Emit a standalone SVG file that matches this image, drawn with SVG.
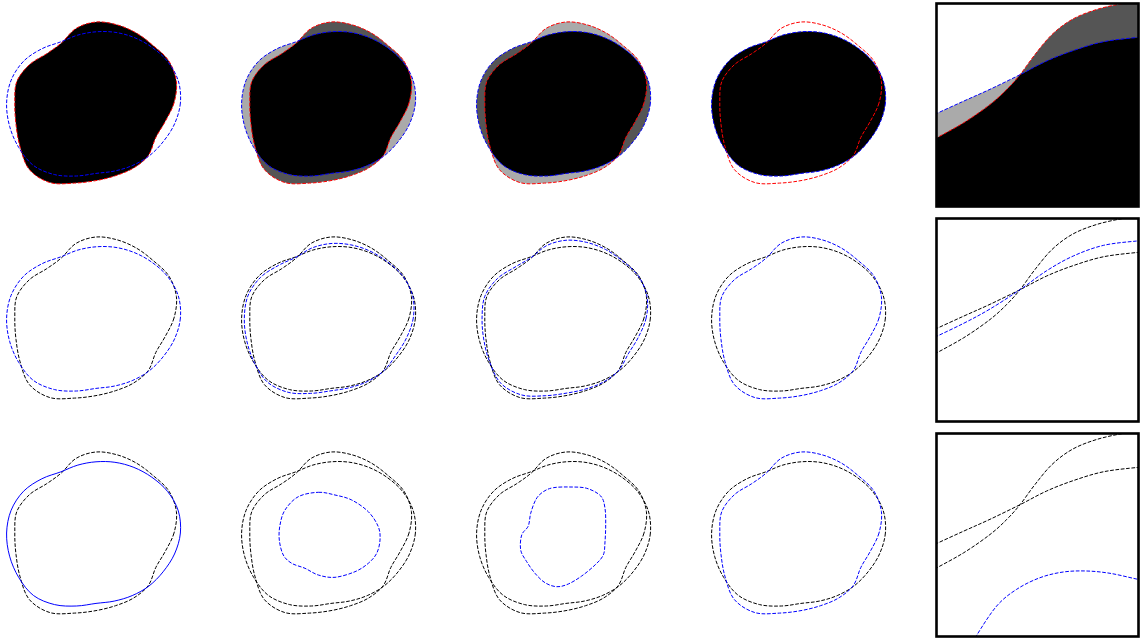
<svg xmlns="http://www.w3.org/2000/svg" xmlns:xlink="http://www.w3.org/1999/xlink" width="1140" height="639" viewBox="0 0 1140 639">
<style>
.dr{fill:none;stroke:#ff0000;stroke-width:1;stroke-dasharray:3.7 1.6}
.db{fill:none;stroke:#0000ff;stroke-width:1;stroke-dasharray:3.7 1.6}
.dk{fill:none;stroke:#000000;stroke-width:1;stroke-dasharray:3.7 1.6}
.sb{fill:none;stroke:#0000ff;stroke-width:1}
.frame{fill:none;stroke:#000000;stroke-width:2.6}
</style>
<defs>
<path id="shA" d="M174,103 C172.13,109.67 168.23,115.75 165.2,121.5 S158.6,131.85 155.8,137.5 S152.1,150.32 148.4,155.4 S139.08,164.62 133.6,168 S121.77,173.6 115.5,175.7 S102.83,179.37 96,180.6 S82.17,182.77 74.5,183.1 S57.52,184.85 50,182.6 S34.38,175.55 29.4,169.6 S22.33,154.43 20.1,146.9 S16.88,131.72 16,124.4 S14.68,110.1 14.8,103 S14.25,88.2 16.7,81.8 S24.5,69.28 29.5,64.6 S41.4,57.3 46.7,53.7 S56.42,47.22 61.3,43 S70.22,31.9 76,28.4 S89.17,22.6 96,22 S110.27,22.95 117,24.8 S130.35,29.62 136.4,33.1 S147.9,41.07 153.3,45.7 S164.95,54.93 168.8,60.9 S175.53,74.48 176.4,81.5 S175.87,96.33 174,103 Z"/>
<path id="shB" d="M180.4,103 C179.77,110.18 177.38,117.53 174.5,124 S167.35,136.47 163.1,141.8 S154.15,152.03 149,156 S138,163.08 132.2,165.6 S120.23,169.8 114.2,171.1 S102.3,172.58 96,173.4 S83.3,175.8 76.4,176 S61.75,176.35 54.6,174.6 S39.47,170 33.5,165.5 S22.78,154.15 18.8,147.6 S11.63,133.63 9.6,126.2 S6.35,110.65 6.6,103 S8.27,87.27 11.1,80.3 S18.48,66.45 23.6,61.2 S35.62,52.02 41.8,48.8 S54.7,44.18 60.7,41.9 S71.92,36.78 77.8,35.1 S89.82,32.27 96,31.8 S108.58,31.37 114.9,32.3 S127.75,34.92 133.9,37.4 S146.17,43.17 151.8,47.2 S163.28,55.98 167.7,61.6 S176.18,74 178.3,80.9 S181.03,95.82 180.4,103 Z"/>
<path id="sh13" d="M178.27,103 C177.22,110.01 174.33,116.94 171.4,123.17 S164.43,134.93 160.67,140.37 S153.47,151.46 148.8,155.8 S138.36,163.59 132.67,166.4 S120.74,171.07 114.63,172.63 S102.48,174.84 96,175.8 S82.92,178.12 75.77,178.37 S60.34,179.18 53.07,177.27 S37.77,171.85 32.13,166.87 S22.63,154.24 19.23,147.37 S13.38,132.99 11.73,125.6 S9.13,110.47 9.33,103 S10.26,87.58 12.97,80.8 S20.49,67.39 25.57,62.33 S37.55,53.78 43.43,50.43 S55.27,45.19 60.9,42.27 S71.35,35.15 77.2,32.87 S89.6,29.05 96,28.53 S109.14,28.56 115.6,29.8 S128.62,33.15 134.73,35.97 S146.75,42.47 152.3,46.7 S163.84,55.63 168.07,61.37 S175.96,74.16 177.67,81.1 S179.31,95.99 178.27,103 Z"/>
<path id="sh23" d="M176.13,103 C174.67,109.84 171.28,116.35 168.3,122.33 S161.51,133.39 158.23,138.93 S152.78,150.89 148.6,155.6 S138.72,164.1 133.13,167.2 S121.26,172.34 115.07,174.17 S102.66,177.1 96,178.2 S82.54,180.44 75.13,180.73 S58.93,182.01 51.53,179.93 S36.07,173.7 30.77,168.23 S22.48,154.33 19.67,147.13 S15.13,132.35 13.87,125 S11.91,110.29 12.07,103 S12.25,87.89 14.83,81.3 S22.5,68.33 27.53,63.47 S39.48,55.54 45.07,52.07 S55.84,46.2 61.1,42.63 S70.78,33.52 76.6,30.63 S89.38,25.83 96,25.27 S109.7,25.75 116.3,27.3 S129.49,31.38 135.57,34.53 S147.33,41.77 152.8,46.2 S164.4,55.28 168.43,61.13 S175.74,74.32 177.03,81.3 S177.59,96.16 176.13,103 Z"/>
<path id="blobC" d="M83.3,62.3 C89.42,62.02 94.43,63.72 100,65 S111.15,67.22 116.7,70 S128.87,77.25 133.3,81.7 S141.35,91.98 143.3,96.7 S145.27,105.57 145,110 S143.65,119.42 141.7,123.3 S136.92,130.23 133.3,133.3 S125.55,139.37 120,141.7 S106.12,146.75 100,147.3 S88.3,146.5 83.3,145 S74.43,140.25 70,138.3 S60.32,135.52 56.7,133.3 S50.37,128.88 48.3,125 S44.85,115 44.3,110 S44.05,100 45,95 S46.95,84.72 50,80 S57.75,69.65 63.3,66.7 S77.18,62.58 83.3,62.3 Z"/>
<path id="blobD" d="M83.3,57.7 C87.75,56.92 94.43,56.9 100,57 S111.58,56.8 116.7,58.3 S127.65,62.67 130.7,66 S134.17,73.47 135,78.3 S135.7,89.43 135.7,95 S135.4,106.7 135,111.7 S134.97,121.12 133.3,125 S128.6,131.5 125,135 S116.15,142.83 111.7,146 S102.47,152.22 98.3,154 S90.58,156.92 86.7,156.7 S78.62,154.93 75,152.7 S68.05,146.8 65,143.3 S59.08,135.58 56.7,131.7 S51.53,124.45 50.7,120 S50.43,109 51.7,105 S56.8,99.62 58.3,96 S59.42,87.75 60.7,83.3 S63.9,72.9 66,69.3 S70.42,63.63 73.3,61.7 S78.85,58.48 83.3,57.7 Z"/>
<path id="zA" d="M930,141.5 C941.1,135.33 953.3,129.17 963.3,123 S982.77,110.08 990,104.5 S1001.7,94.47 1006.7,89.5 S1015.28,80.53 1020,74.7 S1029.67,61.2 1035,54.5 S1045.83,40.33 1052,34.5 S1064.83,23.58 1072,19.5 S1087,12.58 1095,10 S1111.67,5.58 1120,4 S1136.67,1.67 1145,0.5"/>
<path id="zB" d="M930,116.5 C941.1,111.43 953.3,105.83 963.3,101.3 S980.55,93.73 990,89.3 S1010.55,79.42 1020,74.7 S1037.82,65.02 1046.7,61 S1063.87,53.8 1073.3,50.6 S1092.68,43.98 1103.3,41.8 S1129.22,38.3 1137,37.5 S1145.67,37.17 1150,37"/>
<path id="zBl" d="M930,124.5 C941.1,119.17 953.3,113.58 963.3,108.5 S980.55,99.63 990,94 S1010.55,81.08 1020,74.7 S1037.82,61.32 1046.7,55.7 S1063.87,45.22 1073.3,41 S1092.68,32.9 1103.3,30.4 S1129.22,26.82 1137,26 S1145.67,25.67 1150,25.5"/>
<path id="zArc" d="M968,222 C970.9,216.43 971.92,212.97 976.7,205.3 S990.03,183.67 996.7,176 S1009.48,164.02 1016.7,159.3 S1032.23,150.58 1040,147.7 S1055.52,143.12 1063.3,142 S1078.92,140.78 1086.7,141 S1101.95,142.02 1110,143.3 S1128.33,147.25 1135,148.7 S1145,150.9 1150,152"/>
<clipPath id="clipA"><use xlink:href="#shA" href="#shA"/></clipPath>
<clipPath id="boxclip"><rect x="936.5" y="3.5" width="202" height="203"/></clipPath>
</defs>
<rect x="0" y="0" width="1140" height="639" fill="#ffffff"/>

<g id="r1c1">
<use href="#shA" fill="#000"/>
<use href="#shA" class="dr"/>
<use href="#shB" class="db"/>
</g>
<g id="r1c2" transform="translate(235,0)">
<use href="#shA" fill="#555555"/>
<use href="#shB" fill="#aaaaaa"/>
<use href="#shB" fill="#000" clip-path="url(#clipA)"/>
<use href="#shA" class="dr"/>
<use href="#shB" class="db"/>
</g>
<g id="r1c3" transform="translate(470,0)">
<use href="#shA" fill="#aaaaaa"/>
<use href="#shB" fill="#555555"/>
<use href="#shB" fill="#000" clip-path="url(#clipA)"/>
<use href="#shA" class="dr"/>
<use href="#shB" class="db"/>
</g>
<g id="r1c4" transform="translate(705,0)">
<use href="#shB" fill="#000"/>
<use href="#shA" class="dr"/>
<use href="#shB" class="db"/>
</g>

<g id="r2c1" transform="translate(0,215)">
<use href="#shA" class="dk"/>
<use href="#shB" class="db"/>
</g>
<g id="r2c2" transform="translate(235,215)">
<use href="#shA" class="dk"/>
<use href="#shB" class="dk"/>
<use href="#sh13" class="db"/>
</g>
<g id="r2c3" transform="translate(470,215)">
<use href="#shA" class="dk"/>
<use href="#shB" class="dk"/>
<use href="#sh23" class="db"/>
</g>
<g id="r2c4" transform="translate(705,215)">
<use href="#shB" class="dk"/>
<use href="#shA" class="db"/>
</g>

<g id="r3c1" transform="translate(0,430)">
<use href="#shA" class="dk"/>
<use href="#shB" class="sb"/>
</g>
<g id="r3c2" transform="translate(235,430)">
<use href="#shA" class="dk"/>
<use href="#shB" class="dk"/>
<use href="#blobC" class="db"/>
</g>
<g id="r3c3" transform="translate(470,430)">
<use href="#shA" class="dk"/>
<use href="#shB" class="dk"/>
<use href="#blobD" class="db"/>
</g>
<g id="r3c4" transform="translate(705,430)">
<use href="#shB" class="dk"/>
<use href="#shA" class="db"/>
</g>

<g id="zoom1">
<g clip-path="url(#boxclip)">
<path d="M930,141.5 C941.1,135.33 953.3,129.17 963.3,123 S982.77,110.08 990,104.5 S1001.7,94.47 1006.7,89.5 S1015.28,80.53 1020,74.7 S1029.67,61.2 1035,54.5 S1045.83,40.33 1052,34.5 S1064.83,23.58 1072,19.5 S1087,12.58 1095,10 S1111.67,5.58 1120,4 S1136.67,1.67 1145,0.5 L1150,0.5 L1150,215 L925,215 Z" fill="#555555"/>
<path d="M930,116.5 C941.1,111.43 953.3,105.83 963.3,101.3 S980.55,93.73 990,89.3 S1010.55,79.42 1020,74.7 S1037.82,65.02 1046.7,61 S1063.87,53.8 1073.3,50.6 S1092.68,43.98 1103.3,41.8 S1129.22,38.3 1137,37.5 S1145.67,37.17 1150,37 L1150,215 L925,215 Z" fill="#aaaaaa"/>
<path d="M930,141.5 C941.1,135.33 953.3,129.17 963.3,123 S982.77,110.08 990,104.5 S1001.7,94.47 1006.7,89.5 S1015.28,80.53 1020,74.7 C1029.45,69.98 1037.82,65.02 1046.7,61 S1063.87,53.8 1073.3,50.6 S1092.68,43.98 1103.3,41.8 S1129.22,38.3 1137,37.5 S1145.67,37.17 1150,37 L1150,215 L925,215 Z" fill="#000"/>
<use href="#zA" class="dr"/>
<use href="#zB" class="db"/>
</g>
<rect class="frame" x="936.5" y="3.5" width="202" height="203"/>
</g>

<g id="zoom2" transform="translate(0,215)">
<g clip-path="url(#boxclip)">
<use href="#zA" class="dk"/>
<use href="#zB" class="dk"/>
<use href="#zBl" class="db"/>
</g>
<rect class="frame" x="936.5" y="3.5" width="202" height="203"/>
</g>

<g id="zoom3" transform="translate(0,430)">
<g clip-path="url(#boxclip)">
<use href="#zA" class="dk"/>
<use href="#zB" class="dk"/>
<use href="#zArc" class="db"/>
</g>
<rect class="frame" x="936.5" y="3.5" width="202" height="203"/>
</g>
</svg>
